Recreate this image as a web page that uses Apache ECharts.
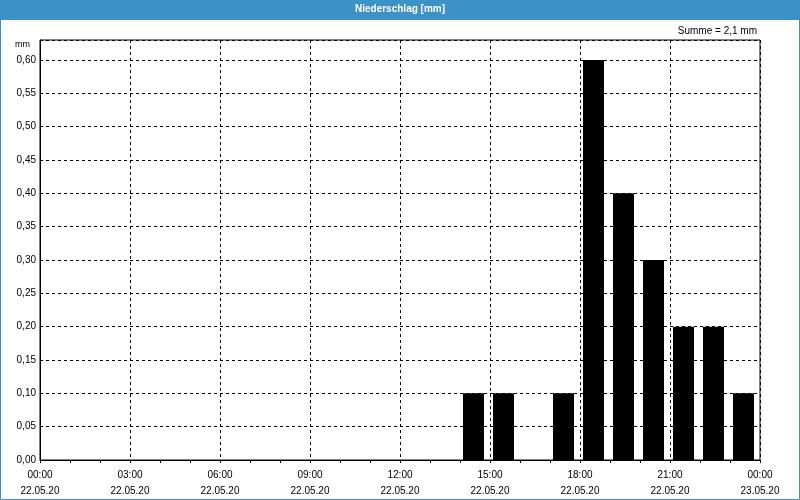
<!DOCTYPE html>
<html>
<head>
<meta charset="utf-8">
<script src="https://cdn.jsdelivr.net/npm/echarts@6/dist/echarts.min.js"></script>
<style>
html,body{margin:0;padding:0;background:#fff;}
#c{width:800px;height:500px;}
</style>
</head>
<body>
<div id="c"></div>
<script>
// Data: hourly precipitation on 22.05.20 (hour start, mm)
const hours = [14, 15, 16, 17, 18, 19, 20, 21, 22, 23];
const values = [0.1, 0.1, 0, 0.1, 0.6, 0.4, 0.3, 0.2, 0.2, 0.1];
const xTickLabels = ['00:00\n22.05.20','03:00\n22.05.20','06:00\n22.05.20','09:00\n22.05.20','12:00\n22.05.20','15:00\n22.05.20','18:00\n22.05.20','21:00\n22.05.20','00:00\n23.05.20'];
const titleText = 'Niederschlag [mm]';
const sumText = 'Summe = 2,1 mm';
const unitText = 'mm';

const FONT = 'Liberation Sans';
const chart = echarts.init(document.getElementById('c'), null, {renderer:'canvas'});
const barData = hours.map((h, i) => [h + 0.45, values[i]]);

chart.setOption({
  animation: false,
  backgroundColor: '#fff',
  textStyle: {fontFamily: FONT},
  graphic: [
    {type:'rect', left:0, top:0, shape:{width:800, height:20}, style:{fill:'#3c91c7'}, z:0},
    {type:'rect', shape:{x:0.5, y:0.5, width:799, height:499}, style:{fill:'none', stroke:'#3c91c7', lineWidth:1}, z:0},
    {type:'text', left:400 - 45, top:4, style:{text:titleText, fill:'#fff', font:'bold 10px "Liberation Sans"'}, z:10},
    {type:'text', right:43, top:26, style:{text:sumText, fill:'#000', font:'10px "Liberation Sans"'}, z:10},
    {type:'text', right:770, top:40, style:{text:unitText, fill:'#000', font:'9px "Liberation Sans"'}, z:10}
  ],
  grid: {left:40, right:40, top:40, bottom:40, show:true, borderColor:'#000', borderWidth:1, backgroundColor:'transparent'},
  xAxis: {
    type:'value', min:0, max:24, interval:3,
    axisLine:{show:true, lineStyle:{color:'#000', width:1}},
    axisTick:{show:true, length:3, lineStyle:{color:'#000'}},
    minorTick:{show:true, splitNumber:3, length:3, lineStyle:{color:'#000'}},
    splitLine:{show:true, lineStyle:{color:'#000', type:[3,3], width:1}},
    axisLabel:{
      color:'#000', fontSize:10, fontFamily:FONT, lineHeight:16, margin:7,
      formatter: (v) => xTickLabels[Math.round(v/3)] || ''
    }
  },
  yAxis: {
    type:'value', min:0, max:0.63, interval:0.05,
    axisLine:{show:true, lineStyle:{color:'#000', width:1}},
    axisTick:{show:false},
    splitLine:{show:true, lineStyle:{color:'#000', type:[3,3], width:1}},
    axisLabel:{
      color:'#000', fontSize:10, fontFamily:FONT, margin:4, showMaxLabel:false,
      formatter: (v) => (Math.abs(v*20 - Math.round(v*20)) < 1e-6) ? v.toFixed(2).replace('.', ',') : ''
    }
  },
  series: [{
    type:'bar',
    data: barData,
    barWidth: 21,
    itemStyle:{color:'#000'},
    z: 5
  }]
});
</script>
</body>
</html>
